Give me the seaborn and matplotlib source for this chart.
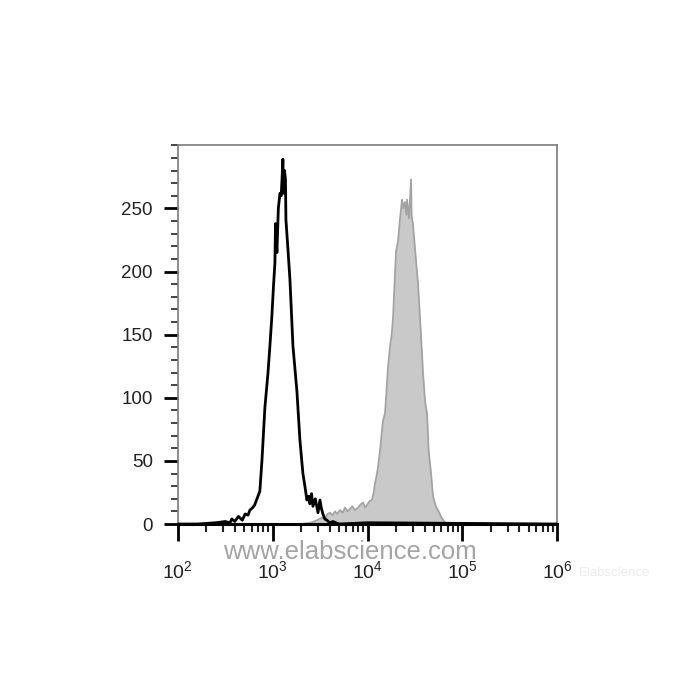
import numpy as np
import pandas as pd
import matplotlib
matplotlib.use('Agg')
import matplotlib.pyplot as plt
from matplotlib.ticker import FixedLocator, FixedFormatter, LogLocator, MultipleLocator, NullFormatter
import seaborn as sns

# control (black line): log10 of fluorescence, event count
ctrl_log = [2.00, 2.20, 2.40, 2.50, 2.55, 2.57, 2.60, 2.64, 2.68, 2.71, 2.74, 2.76,
            2.79, 2.81, 2.84, 2.865, 2.887, 2.918, 2.95, 2.971, 2.992, 3.01, 3.024,
            3.03, 3.045, 3.06, 3.077, 3.09, 3.10, 3.108, 3.115, 3.125, 3.135, 3.14,
            3.161, 3.182, 3.214, 3.256, 3.288, 3.319, 3.34, 3.361, 3.38, 3.393, 3.41,
            3.425, 3.45, 3.478, 3.499, 3.515, 3.53, 3.55, 3.573, 3.60, 3.636, 3.70,
            4.0, 6.0]
ctrl_count = [0, 0, 1, 2, 1, 4, 2, 6, 3, 8, 7, 11,
              13, 15, 21, 26, 50, 92, 119, 141, 165, 190, 207,
              238, 215, 250, 262, 260, 275, 289, 262, 280, 273, 241,
              218, 194, 141, 105, 66, 40, 30, 19, 22, 16, 24,
              14, 20, 9, 19, 12, 8, 4, 3, 1, 2, 0,
              1, 0]

# stained sample (grey filled)
stain_log = [2.0, 3.3, 3.40, 3.467, 3.52, 3.55, 3.58, 3.604, 3.63, 3.657, 3.68, 3.71,
             3.74, 3.763, 3.79, 3.815, 3.84, 3.868, 3.90, 3.921, 3.953, 3.975, 3.995,
             4.02, 4.047, 4.065, 4.079, 4.095, 4.111, 4.132, 4.15, 4.164, 4.185, 4.20,
             4.216, 4.237, 4.255, 4.269, 4.285, 4.301, 4.322, 4.343, 4.364, 4.38, 4.396,
             4.41, 4.417, 4.438, 4.459, 4.465, 4.480, 4.501, 4.533, 4.565, 4.586, 4.607,
             4.628, 4.645, 4.67, 4.691, 4.72, 4.75, 4.78, 4.81, 4.84, 6.0]
stain_count = [0, 0, 1, 3, 5, 4, 8, 9, 7, 10, 8, 11,
               9, 13, 10, 12, 14, 11, 13, 15, 17, 13, 15,
               18, 19, 25, 32, 38, 45, 58, 72, 82, 88, 105,
               124, 140, 150, 163, 190, 216, 224, 242, 257, 250, 255,
               245, 257, 242, 273, 245, 237, 218, 190, 148, 119, 97,
               87, 58, 40, 22, 14, 10, 5, 2, 0, 0]

x_ticks = [1e2, 1e3, 1e4, 1e5, 1e6]
x_labels = ['2', '3', '4', '5', '6']
y_ticks = [0, 50, 100, 150, 200, 250]

ctrl = pd.DataFrame({'x': np.power(10.0, ctrl_log), 'count': ctrl_count})
stain = pd.DataFrame({'x': np.power(10.0, stain_log), 'count': stain_count})

sns.set_style('ticks')
plt.rcParams['font.family'] = ['Liberation Sans', 'DejaVu Sans']

fig = plt.figure(figsize=(7, 7), dpi=100)
ax = fig.add_axes([0.254, 0.2514, 0.542, 0.541])
ax.set_xscale('log')

ax.fill_between(stain['x'], stain['count'], 0, color='#c9c9c9', lw=0, zorder=1)
sns.lineplot(data=stain, x='x', y='count', ax=ax, color='#a3a3a3', lw=1.3,
             estimator=None, sort=False, zorder=2)
sns.lineplot(data=ctrl, x='x', y='count', ax=ax, color='black', lw=2.0,
             estimator=None, sort=False, zorder=3)

ax.set_xlim(1e2, 1e6)
ax.set_ylim(0, 300)
ax.set_xlabel('')
ax.set_ylabel('')

for side in ['top', 'right', 'left']:
    ax.spines[side].set_color('#7a7a7a')
    ax.spines[side].set_linewidth(1.2)
ax.spines['bottom'].set_color('black')
ax.spines['bottom'].set_linewidth(2.2)

ax.xaxis.set_major_locator(FixedLocator(x_ticks))
ax.xaxis.set_major_formatter(FixedFormatter(['$\\mathregular{10^{%s}}$' % s for s in x_labels]))
ax.xaxis.set_minor_locator(LogLocator(base=10, subs=np.arange(2, 10)))
ax.xaxis.set_minor_formatter(NullFormatter())
ax.yaxis.set_major_locator(FixedLocator(y_ticks))
ax.yaxis.set_minor_locator(MultipleLocator(10))

ax.tick_params(axis='x', which='major', length=12, width=2, color='black',
               labelsize=14, pad=14, labelcolor='#222222')
ax.tick_params(axis='x', which='minor', length=6, width=1.5, color='#222222')
ax.tick_params(axis='y', which='major', length=10, width=2, color='black',
               labelsize=13.5, pad=8, labelcolor='#222222')
ax.tick_params(axis='y', which='minor', length=5, width=1.4, color='#444444')

# watermarks
fig.text(0.50, 0.211, 'www.elabscience.com', color='#9a9a9a', fontsize=18.5,
         ha='center', va='center', alpha=0.9)
fig.text(0.878, 0.182, 'Elabscience', color='#ececec', fontsize=9.5,
         ha='center', va='center')

fig.savefig('out.png', dpi=100)
